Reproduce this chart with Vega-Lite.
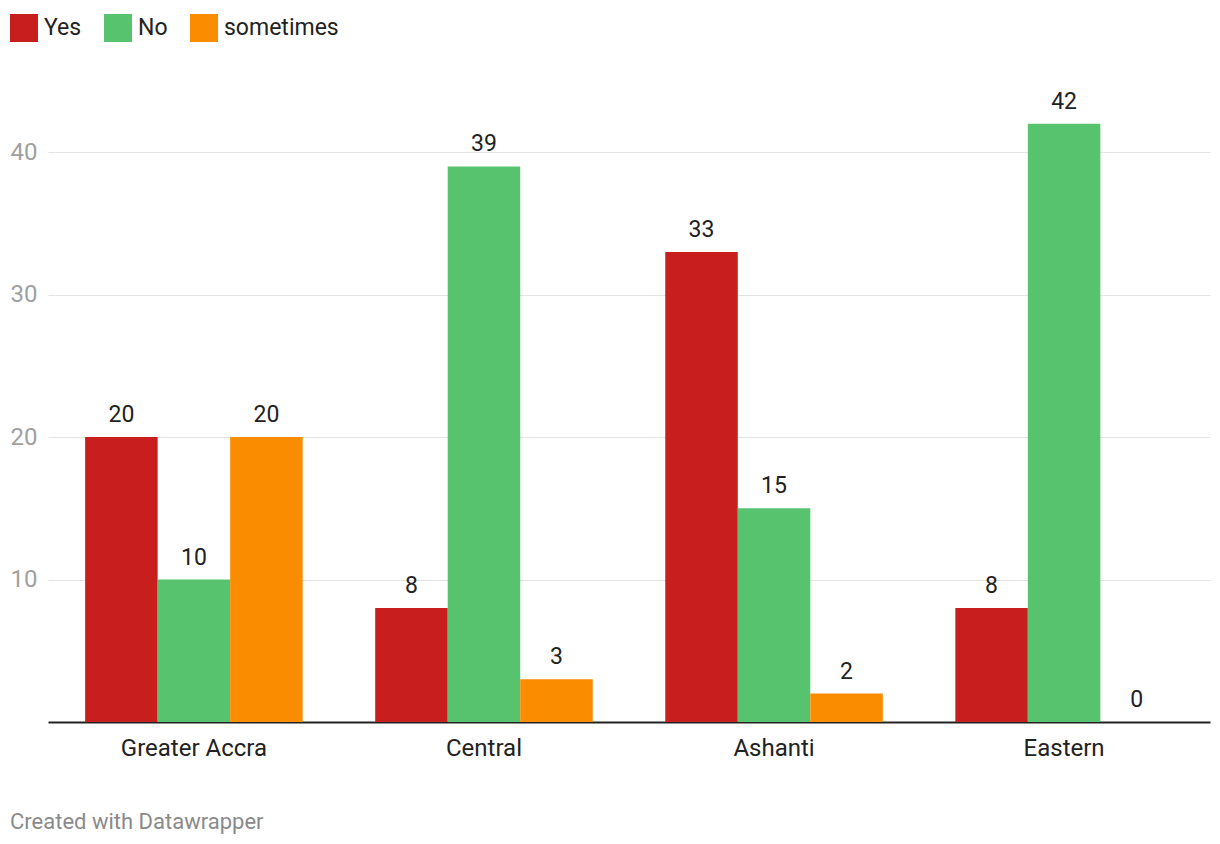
{
  "$schema": "https://vega.github.io/schema/vega-lite/v6.json",
  "width": 1162,
  "height": 641,
  "autosize": {"type": "none"},
  "padding": {"left": 48, "top": 81, "right": 10, "bottom": 122},
  "background": "white",
  "config": {
    "font": "Roboto",
    "view": {"stroke": null}
  },
  "title": {
    "text": "Created with Datawrapper",
    "orient": "bottom",
    "anchor": "start",
    "frame": "bounds",
    "fontSize": 22,
    "fontWeight": "normal",
    "color": "#8a8a8a",
    "offset": 52
  },
  "data": {
    "values": [
      {"region": "Greater Accra", "series": "Yes", "value": 20},
      {"region": "Greater Accra", "series": "No", "value": 10},
      {"region": "Greater Accra", "series": "sometimes", "value": 20},
      {"region": "Central", "series": "Yes", "value": 8},
      {"region": "Central", "series": "No", "value": 39},
      {"region": "Central", "series": "sometimes", "value": 3},
      {"region": "Ashanti", "series": "Yes", "value": 33},
      {"region": "Ashanti", "series": "No", "value": 15},
      {"region": "Ashanti", "series": "sometimes", "value": 2},
      {"region": "Eastern", "series": "Yes", "value": 8},
      {"region": "Eastern", "series": "No", "value": 42},
      {"region": "Eastern", "series": "sometimes", "value": 0}
    ]
  },
  "encoding": {
    "x": {
      "field": "region",
      "type": "nominal",
      "sort": ["Greater Accra", "Central", "Ashanti", "Eastern"],
      "scale": {"paddingInner": 0.25, "paddingOuter": 0.128},
      "axis": {
        "title": null,
        "labelAngle": 0,
        "ticks": false,
        "domainColor": "#222222",
        "domainWidth": 2,
        "labelFontSize": 24,
        "labelColor": "#222222",
        "labelPadding": 14
      }
    },
    "xOffset": {
      "field": "series",
      "type": "nominal",
      "sort": ["Yes", "No", "sometimes"],
      "scale": {"paddingInner": 0, "paddingOuter": 0}
    },
    "y": {
      "field": "value",
      "type": "quantitative",
      "scale": {"domain": [0, 45], "nice": false},
      "axis": {
        "title": null,
        "values": [10, 20, 30, 40],
        "domain": false,
        "ticks": false,
        "gridColor": "#e3e3e3",
        "gridWidth": 1,
        "labelFontSize": 24,
        "labelColor": "#a0a0a0",
        "labelPadding": 11
      }
    }
  },
  "layer": [
    {
      "mark": {"type": "bar"},
      "encoding": {
        "color": {
          "field": "series",
          "type": "nominal",
          "sort": ["Yes", "No", "sometimes"],
          "scale": {"domain": ["Yes", "No", "sometimes"], "range": ["#c91e1e", "#57c36f", "#fa8c00"]},
          "legend": {
            "title": null,
            "orient": "none",
            "direction": "horizontal",
            "legendX": -38,
            "legendY": -67,
            "symbolType": "square",
            "symbolSize": 784,
            "symbolStrokeWidth": 0,
            "symbolOpacity": 1,
            "labelFontSize": 23,
            "labelColor": "#222222",
            "labelOffset": 6,
            "columnPadding": 22
          }
        }
      }
    },
    {
      "mark": {"type": "text", "dy": -10, "baseline": "bottom", "fontSize": 23, "color": "#222222"},
      "encoding": {
        "text": {"field": "value", "type": "quantitative"}
      }
    }
  ]
}
